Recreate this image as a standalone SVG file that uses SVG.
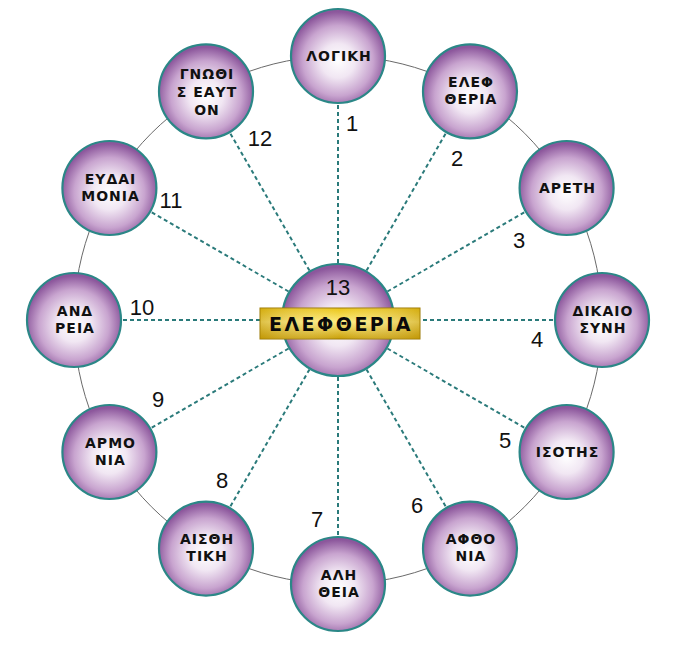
<svg xmlns="http://www.w3.org/2000/svg" width="673" height="656" viewBox="0 0 673 656">
  <defs>
    <radialGradient id="orb" cx="50%" cy="55%" r="52%">
      <stop offset="0" stop-color="#ffffff"/>
      <stop offset="0.35" stop-color="#f1e7f3"/>
      <stop offset="0.72" stop-color="#c8a4cf"/>
      <stop offset="1" stop-color="#8c579c"/>
    </radialGradient>
    <linearGradient id="gold" x1="0" y1="0" x2="0" y2="1">
      <stop offset="0" stop-color="#eac516"/>
      <stop offset="0.45" stop-color="#fcea7e"/>
      <stop offset="1" stop-color="#c99f06"/>
    </linearGradient>
    <linearGradient id="goldH" x1="0" y1="0" x2="1" y2="0">
      <stop offset="0" stop-color="#b88d00" stop-opacity="0.45"/>
      <stop offset="0.5" stop-color="#ffffff" stop-opacity="0"/>
      <stop offset="1" stop-color="#b88d00" stop-opacity="0.45"/>
    </linearGradient>
  </defs>
  <style>
    .orb { fill: url(#orb); stroke: #2b8787; stroke-width: 2.2; }
    .lbl { font-family: "DejaVu Sans", "Noto Sans", sans-serif; font-size: 14px; font-weight: bold; fill: #111; text-anchor: middle; letter-spacing: 1px; }
    .num { font-family: "Liberation Sans", Arial, sans-serif; font-size: 22px; fill: #111; text-anchor: middle; }
    .conn line { stroke: #2a7a7a; stroke-width: 2; stroke-dasharray: 4 3; }
    .ring { fill: none; stroke: #6a6a6a; stroke-width: 1; }
    .title { font-family: "DejaVu Sans", "Noto Sans", sans-serif; font-size: 19px; font-weight: bold; fill: #0a0a0a; text-anchor: middle; letter-spacing: 2.5px; }
  </style>
  <rect width="673" height="656" fill="#ffffff"/>
  <circle class="ring" cx="338" cy="320" r="264"/>

  <g id="connectors" class="conn">
    <line x1="338" y1="263" x2="338" y2="103"/>
    <line x1="366.5" y1="270.6" x2="446.5" y2="132.1"/>
    <line x1="387.4" y1="291.5" x2="525.9" y2="211.5"/>
    <line x1="395" y1="320" x2="555" y2="320"/>
    <line x1="387.4" y1="348.5" x2="525.9" y2="428.5"/>
    <line x1="366.5" y1="369.4" x2="446.5" y2="507.9"/>
    <line x1="338" y1="377" x2="338" y2="537"/>
    <line x1="309.5" y1="369.4" x2="229.5" y2="507.9"/>
    <line x1="288.6" y1="348.5" x2="150.1" y2="428.5"/>
    <line x1="281" y1="320" x2="121" y2="320"/>
    <line x1="288.6" y1="291.5" x2="150.1" y2="211.5"/>
    <line x1="309.5" y1="270.6" x2="229.5" y2="132.1"/>
  </g>

  <g id="node1">
    <circle class="orb" cx="338" cy="56" r="47"/>
    <text class="lbl" x="339" y="61">ΛΟΓΙΚΗ</text>
  </g>
  <g id="node2">
    <circle class="orb" cx="470" cy="91.4" r="47"/>
    <text class="lbl" x="471" y="87">ΕΛΕΦ</text>
    <text class="lbl" x="471" y="104">ΘΕΡΙΑ</text>
  </g>
  <g id="node3">
    <circle class="orb" cx="566.6" cy="188" r="47"/>
    <text class="lbl" x="567.5" y="193">ΑΡΕΤΗ</text>
  </g>
  <g id="node4">
    <circle class="orb" cx="602" cy="320" r="47"/>
    <text class="lbl" x="603" y="316">ΔΙΚΑΙΟ</text>
    <text class="lbl" x="603" y="333">ΣΥΝΗ</text>
  </g>
  <g id="node5">
    <circle class="orb" cx="566.6" cy="452" r="47"/>
    <text class="lbl" x="567.5" y="457">ΙΣΟΤΗΣ</text>
  </g>
  <g id="node6">
    <circle class="orb" cx="470" cy="548.6" r="47"/>
    <text class="lbl" x="471" y="544">ΑΦΘΟ</text>
    <text class="lbl" x="471" y="561">ΝΙΑ</text>
  </g>
  <g id="node7">
    <circle class="orb" cx="338" cy="584" r="47"/>
    <text class="lbl" x="339" y="580">ΑΛΗ</text>
    <text class="lbl" x="339" y="597">ΘΕΙΑ</text>
  </g>
  <g id="node8">
    <circle class="orb" cx="206" cy="548.6" r="47"/>
    <text class="lbl" x="207" y="544">ΑΙΣΘΗ</text>
    <text class="lbl" x="207" y="561">ΤΙΚΗ</text>
  </g>
  <g id="node9">
    <circle class="orb" cx="109.4" cy="452" r="47"/>
    <text class="lbl" x="110.5" y="448">ΑΡΜΟ</text>
    <text class="lbl" x="110.5" y="465">ΝΙΑ</text>
  </g>
  <g id="node10">
    <circle class="orb" cx="74" cy="320" r="47"/>
    <text class="lbl" x="75" y="316">ΑΝΔ</text>
    <text class="lbl" x="75" y="333">ΡΕΙΑ</text>
  </g>
  <g id="node11">
    <circle class="orb" cx="109.4" cy="188" r="47"/>
    <text class="lbl" x="110.5" y="184">ΕΥΔΑΙ</text>
    <text class="lbl" x="110.5" y="201">ΜΟΝΙΑ</text>
  </g>
  <g id="node12">
    <circle class="orb" cx="206" cy="91.4" r="47"/>
    <text class="lbl" x="207" y="79">ΓΝΩΘΙ</text>
    <text class="lbl" x="207" y="97">Σ ΕΑΥΤ</text>
    <text class="lbl" x="207" y="115">ΟΝ</text>
  </g>

  <g id="node13">
    <circle class="orb" cx="338" cy="320" r="56"/>
    <text class="num" x="338" y="295">13</text>
    <rect x="260" y="308" width="160" height="31" fill="url(#gold)" stroke="#9c7a05" stroke-width="1"/>
    <rect x="260" y="308" width="160" height="31" fill="url(#goldH)"/>
    <text class="title" x="341" y="331">ΕΛΕΦΘΕΡΙΑ</text>
  </g>

  <g id="numbers">
    <text class="num" x="352" y="131">1</text>
    <text class="num" x="457" y="166">2</text>
    <text class="num" x="519" y="248">3</text>
    <text class="num" x="537" y="347">4</text>
    <text class="num" x="505" y="448">5</text>
    <text class="num" x="417" y="513">6</text>
    <text class="num" x="317" y="527">7</text>
    <text class="num" x="222" y="488">8</text>
    <text class="num" x="158" y="407">9</text>
    <text class="num" x="142" y="315">10</text>
    <text class="num" x="171" y="208">11</text>
    <text class="num" x="260" y="146">12</text>
  </g>
</svg>
